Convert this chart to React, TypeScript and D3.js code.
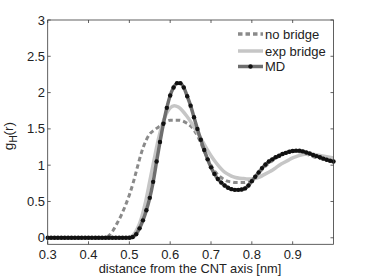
import React, { useEffect, useRef } from "react";
import * as d3 from "d3";

// grid for the MD samples (nm)
const mdX = [
  0.3, 0.3083, 0.3167, 0.325, 0.3333, 0.3417, 0.35, 0.3583, 0.3667, 0.375,
  0.3833, 0.3917, 0.4, 0.4083, 0.4167, 0.425, 0.4333, 0.4417, 0.45, 0.4583,
  0.4667, 0.475, 0.4833, 0.4917, 0.5, 0.5083, 0.5167, 0.525, 0.5333, 0.5417,
  0.55, 0.5583, 0.5667, 0.575, 0.5833, 0.5917, 0.6, 0.6083, 0.6167, 0.625,
  0.6333, 0.6417, 0.65, 0.6583, 0.6667, 0.675, 0.6833, 0.6917, 0.7, 0.7083,
  0.7167, 0.725, 0.7333, 0.7417, 0.75, 0.7583, 0.7667, 0.775, 0.7833, 0.7917,
  0.8, 0.8083, 0.8167, 0.825, 0.8333, 0.8417, 0.85, 0.8583, 0.8667, 0.875,
  0.8833, 0.8917, 0.9, 0.9083, 0.9167, 0.925, 0.9333, 0.9417, 0.95, 0.9583,
  0.9667, 0.975, 0.9833, 0.9917, 1.0,
];
const mdY = [
  0, 0, 0, 0, 0, 0, 0, 0, 0, 0,
  0, 0, 0, 0, 0, 0, 0, 0, 0, 0,
  0, 0, 0, 0, 0, 0.01, 0.05, 0.13, 0.24, 0.38,
  0.55, 0.77, 1.05, 1.32, 1.57, 1.79, 1.96, 2.07, 2.13, 2.13,
  2.07, 1.95, 1.82, 1.66, 1.5, 1.35, 1.21, 1.08, 0.97, 0.88,
  0.81, 0.76, 0.72, 0.69, 0.67, 0.66, 0.66, 0.665, 0.68, 0.72,
  0.78, 0.84, 0.9, 0.96, 1.01, 1.05, 1.08, 1.11, 1.13, 1.155,
  1.17, 1.185, 1.195, 1.2, 1.2, 1.19, 1.175, 1.16, 1.14, 1.125,
  1.11, 1.09, 1.075, 1.06, 1.05,
];

// grid for the two theory curves (nm)
const thX = [
  0.3, 0.31, 0.32, 0.33, 0.34, 0.35, 0.36, 0.37, 0.38, 0.39,
  0.4, 0.41, 0.42, 0.43, 0.44, 0.45, 0.46, 0.47, 0.48, 0.49,
  0.5, 0.51, 0.52, 0.53, 0.54, 0.55, 0.56, 0.57, 0.58, 0.59,
  0.6, 0.61, 0.62, 0.63, 0.64, 0.65, 0.66, 0.67, 0.68, 0.69,
  0.7, 0.71, 0.72, 0.73, 0.74, 0.75, 0.76, 0.77, 0.78, 0.79,
  0.8, 0.81, 0.82, 0.83, 0.84, 0.85, 0.86, 0.87, 0.88, 0.89,
  0.9, 0.91, 0.92, 0.93, 0.94, 0.95, 0.96, 0.97, 0.98, 0.99, 1.0,
];
const noBridge = [
  0, 0, 0, 0, 0, 0, 0, 0, 0, 0,
  0, 0, 0, 0, 0, 0.03, 0.1, 0.2, 0.31, 0.44,
  0.59, 0.77, 0.98, 1.18, 1.33, 1.43, 1.48, 1.52, 1.56, 1.6,
  1.62, 1.62, 1.62, 1.61, 1.58, 1.54, 1.47, 1.37, 1.24, 1.11,
  1.0, 0.91, 0.85, 0.81, 0.78, 0.77, 0.76, 0.76, 0.76, 0.77,
  0.8, 0.85, 0.91, 0.97, 1.02, 1.06, 1.1, 1.13, 1.16, 1.18,
  1.19, 1.19, 1.18, 1.16, 1.14, 1.12, 1.1, 1.09, 1.08, 1.07, 1.06,
];
const expBridge = [
  0, 0, 0, 0, 0, 0, 0, 0, 0, 0,
  0, 0, 0, 0, 0, 0, 0, 0, 0, 0,
  0.01, 0.04, 0.13, 0.28, 0.5, 0.78, 1.06, 1.33, 1.55, 1.7,
  1.79, 1.82, 1.8, 1.75, 1.68, 1.6, 1.51, 1.42, 1.32, 1.22,
  1.13, 1.05, 0.98, 0.92, 0.88, 0.85, 0.83, 0.82, 0.815, 0.81,
  0.81, 0.82, 0.84, 0.87, 0.9, 0.93, 0.97, 1.01, 1.04, 1.07,
  1.1, 1.12, 1.14, 1.15, 1.15, 1.15, 1.14, 1.13, 1.12, 1.11, 1.1,
];

const xTicks = [0.3, 0.4, 0.5, 0.6, 0.7, 0.8, 0.9];
const yTicks = [0, 0.5, 1, 1.5, 2, 2.5, 3];
const legendLabels = ["no bridge", "exp bridge", "MD"];

const W = 368;
const H = 277;
const FONT = "'Liberation Sans', Arial, Helvetica, sans-serif";

function Chart() {
  const ref = useRef<SVGSVGElement>(null);

  useEffect(() => {
    if (!ref.current) return;
    const svg = d3.select(ref.current);
    svg.selectAll("*").remove();

    const left = 47.7, right = 333.5, top = 20, bottom = 244.3;
    const x = d3.scaleLinear().domain([0.3, 1.0]).range([left, right]);
    const y = d3.scaleLinear().domain([-0.09, 3]).range([bottom, top]);

    svg.append("rect").attr("width", W).attr("height", H).attr("fill", "#fff");

    const axisColor = "#3a3a3a";

    // ticks (inward, all four sides)
    const tl = 3;
    const g = svg.append("g").attr("stroke", axisColor).attr("stroke-width", 0.8);
    xTicks.forEach((t) => {
      g.append("line").attr("x1", x(t)).attr("x2", x(t)).attr("y1", bottom).attr("y2", bottom - tl);
      g.append("line").attr("x1", x(t)).attr("x2", x(t)).attr("y1", top).attr("y2", top + tl);
    });
    yTicks.forEach((t) => {
      g.append("line").attr("x1", left).attr("x2", left + tl).attr("y1", y(t)).attr("y2", y(t));
      g.append("line").attr("x1", right).attr("x2", right - tl).attr("y1", y(t)).attr("y2", y(t));
    });

    // tick labels
    svg.append("g")
      .selectAll("text")
      .data(xTicks)
      .join("text")
      .attr("x", (d) => x(d))
      .attr("y", 258.5)
      .attr("text-anchor", "middle")
      .attr("font-family", FONT)
      .attr("font-size", 13)
      .attr("fill", "#222")
      .text((d) => d3.format(".1f")(d));

    svg.append("g")
      .selectAll("text")
      .data(yTicks)
      .join("text")
      .attr("x", 45)
      .attr("y", (d) => y(d) + 4.6)
      .attr("text-anchor", "end")
      .attr("font-family", FONT)
      .attr("font-size", 13)
      .attr("fill", "#222")
      .text((d) => String(d));

    // axis labels
    svg.append("text")
      .attr("x", 190)
      .attr("y", 272.5)
      .attr("text-anchor", "middle")
      .attr("font-family", FONT)
      .attr("font-size", 12.8)
      .attr("fill", "#222")
      .text("distance from the CNT axis [nm]");

    const yl = svg.append("text")
      .attr("transform", "translate(13,136) rotate(-90)")
      .attr("text-anchor", "middle")
      .attr("font-family", FONT)
      .attr("font-size", 13.5)
      .attr("fill", "#222");
    yl.append("tspan").text("g");
    yl.append("tspan").attr("font-size", 10).attr("dy", 3.5).text("H");
    yl.append("tspan").attr("dy", -3.5).text("(r)");

    const line = d3.line<[number, number]>()
      .x((d) => x(d[0]))
      .y((d) => y(d[1]))
      .curve(d3.curveMonotoneX);

    const nb: [number, number][] = thX.map((v, i) => [v, noBridge[i]]);
    const eb: [number, number][] = thX.map((v, i) => [v, expBridge[i]]);
    const md: [number, number][] = mdX.map((v, i) => [v, mdY[i]]);

    svg.append("path")
      .attr("d", line(nb))
      .attr("fill", "none")
      .attr("stroke", "#8a8a8a")
      .attr("stroke-width", 3)
      .attr("stroke-dasharray", "4.5,3");

    svg.append("path")
      .attr("d", line(eb))
      .attr("fill", "none")
      .attr("stroke", "#c6c6c6")
      .attr("stroke-width", 3.5);

    svg.append("path")
      .attr("d", line(md))
      .attr("fill", "none")
      .attr("stroke", "#6e6e6e")
      .attr("stroke-width", 3.5);

    svg.append("g")
      .selectAll("circle")
      .data(md)
      .join("circle")
      .attr("cx", (d) => x(d[0]))
      .attr("cy", (d) => y(d[1]))
      .attr("r", 2.2)
      .attr("fill", "#111");

    // legend
    const lx0 = 238, lx1 = 263;
    const ly = [34, 51, 66.5];
    const styles = [
      { stroke: "#8a8a8a", dash: "4.5,3" },
      { stroke: "#c6c6c6", dash: null },
      { stroke: "#6e6e6e", dash: null },
    ];
    legendLabels.forEach((lab, i) => {
      const l = svg.append("line")
        .attr("x1", lx0).attr("x2", lx1)
        .attr("y1", ly[i]).attr("y2", ly[i])
        .attr("stroke", styles[i].stroke)
        .attr("stroke-width", 3.5);
      if (styles[i].dash) l.attr("stroke-dasharray", styles[i].dash);
      if (i === 2) {
        svg.append("circle").attr("cx", (lx0 + lx1) / 2).attr("cy", ly[i]).attr("r", 2.2).attr("fill", "#111");
      }
      svg.append("text")
        .attr("x", lx1 + 2)
        .attr("y", ly[i] + 4.6)
        .attr("font-family", FONT)
        .attr("font-size", 13)
        .attr("fill", "#222")
        .text(lab);
    });

    // box
    svg.append("rect")
      .attr("x", left).attr("y", top)
      .attr("width", right - left).attr("height", bottom - top)
      .attr("fill", "none")
      .attr("stroke", axisColor)
      .attr("stroke-width", 0.8);
  }, []);

  return <svg ref={ref} width={W} height={H} style={{ display: "block" }} />;
}

export default function App() {
  return (
    <div style={{ position: "fixed", left: 0, top: 0 }}>
      <Chart />
    </div>
  );
}
